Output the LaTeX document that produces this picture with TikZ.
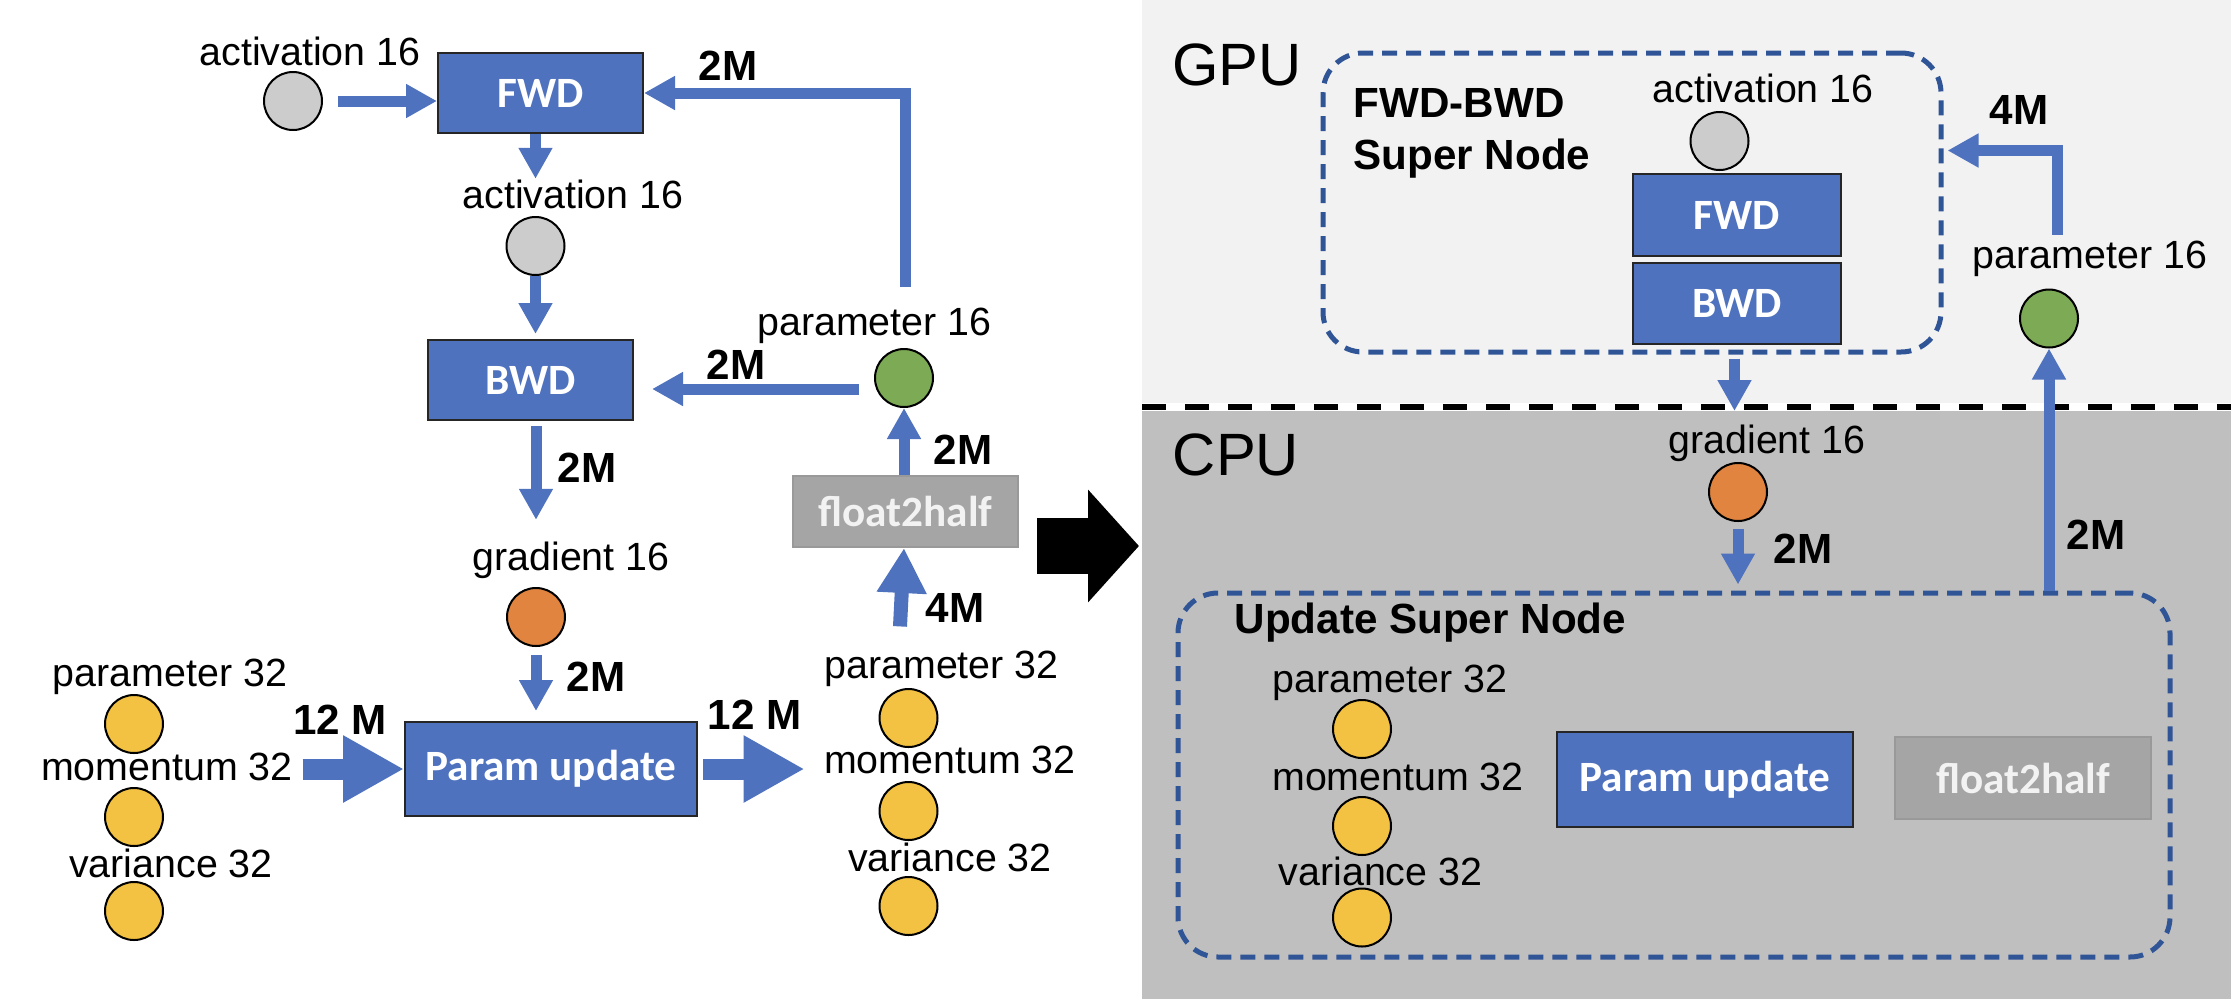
\documentclass[tikz,border=0pt]{standalone}
\usepackage{fontspec}
\setmainfont{Liberation Sans}
\newfontfamily\boxfont{Carlito}
\usetikzlibrary{arrows.meta,calc}
\definecolor{ppblue}{HTML}{4F72BE}
\definecolor{ppdash}{HTML}{2F5597}
\definecolor{ppgray}{HTML}{A5A5A5}
\definecolor{pporange}{HTML}{E0843F}
\definecolor{ppgreen}{HTML}{7DAA55}
\definecolor{ppyellow}{HTML}{F3C242}
\definecolor{gpubg}{HTML}{F2F2F2}
\definecolor{cpubg}{HTML}{BFBFBF}
\begin{document}
\begin{tikzpicture}[x=0.1mm,y=-0.1mm,
  lbl/.style={inner sep=0pt,font=\fontsize{11.2}{13}\selectfont},
  num/.style={inner sep=0pt,font=\fontsize{12}{14.8}\selectfont\bfseries},
  blk/.style={draw=black!85,line width=0.2mm,fill=ppblue,text=white,inner sep=0pt,font=\boxfont\fontsize{12.3}{14}\selectfont\bfseries},
  cvt/.style={blk,draw=black!40,fill=ppgray,text=black!5},
  dot/.style={circle,draw=black,line width=0.2mm,minimum size=5.8mm,inner sep=0pt},
  act/.style={dot,fill=black!20},
  flow/.style={draw=ppblue,line width=1.1mm,-{Triangle[length=3.1mm,width=3.2mm]}},
  bigflow/.style={draw=ppblue,line width=2.1mm,-{Triangle[length=6.1mm,width=6.3mm]}},
  super/.style={draw=ppdash,line width=0.5mm,dash pattern=on 1.5mm off 0.9mm,rounded corners=4mm,inner sep=0pt}]
\useasboundingbox (0,0) rectangle (2234,1006);

\node[lbl,anchor=base] (a1t) at (310,65) {activation 16};
\node[act] (a1) at (293,101) {};
\node[blk,minimum width=20.5mm,minimum height=8mm] (fwd) at (540.5,93) {FWD};
\node[lbl,anchor=base] (a2t) at (573,208) {activation 16};
\node[act] (a2) at (535.5,246) {};
\node[blk,minimum width=20.5mm,minimum height=8mm] (bwd) at (530.5,380) {BWD};
\node[lbl,anchor=base] (p16t) at (874.5,335) {parameter 16};
\node[dot,fill=ppgreen] (p16) at (904,378) {};
\node[cvt,minimum width=22.5mm,minimum height=7.1mm] (f2h) at (905.5,511.5) {float2half};
\node[lbl,anchor=base] (g16t) at (571,570) {gradient 16};
\node[dot,fill=pporange] (g16) at (536,617) {};
\node[blk,minimum width=29.2mm,minimum height=9.4mm] (upd) at (551,769) {Param update};

\node[lbl,anchor=base] (lp32t) at (170,686) {parameter 32};
\node[dot,fill=ppyellow] (lp32) at (134,724) {};
\node[lbl,anchor=base] (lm32t) at (167,780) {momentum 32};
\node[dot,fill=ppyellow] (lm32) at (134,817) {};
\node[lbl,anchor=base] (lv32t) at (171,877) {variance 32};
\node[dot,fill=ppyellow] (lv32) at (134,911) {};

\node[lbl,anchor=base] (rp32t) at (941.5,678.6) {parameter 32};
\node[dot,fill=ppyellow] (rp32) at (908.5,718) {};
\node[lbl,anchor=base] (rm32t) at (950,773) {momentum 32};
\node[dot,fill=ppyellow] (rm32) at (908.5,811) {};
\node[lbl,anchor=base] (rv32t) at (950,871) {variance 32};
\node[dot,fill=ppyellow] (rv32) at (908.5,906) {};

\node[num] (n1) at (728,66) {2M};
\node[num] (n2) at (736,365) {2M};
\node[num] (n3) at (963,450) {2M};
\node[num] (n4) at (587,468) {2M};
\node[num] (n5) at (596,677) {2M};
\node[num] (n6) at (340,720) {12 M};
\node[num] (n7) at (754.5,714.5) {12 M};
\node[num] (n8) at (955,608) {4M};

\draw[flow] ($(a1.east)+(15,0)$) -- (a1.east -| fwd.west);
\draw[flow] (a2.north |- fwd.south) -- (a2.north |- a2t.north);
\draw[flow] (a2.south) -- ($(a2.south |- bwd.north)+(0,-5)$);
\draw[flow] ($(g16.north |- bwd.south)+(0,5)$) -- ($(g16.north |- g16t.north)+(0,-21)$);
\draw[flow] ($(g16.south)+(0,8)$) -- ($(g16.south |- upd.north)+(0,-10)$);
\draw[flow] ($(p16.west)+(-15,11)$) -- ($(p16.west -| bwd.east)+(18,11)$);
\draw[flow] (p16.south |- f2h.north) -- (p16.south);
\draw[flow] ($(p16.north |- p16t.north)+(1,-20)$) |- (fwd.east);
\draw[flow,line width=1.4mm,-{Triangle[length=4.5mm,width=4.7mm]}] ($(p16.south |- rp32t.north)+(-4,-24)$) -- (p16.south |- f2h.south);
\draw[bigflow] ($(lm32t.east |- upd.west)+(9,0)$) -- (upd.west);
\draw[bigflow] ($(upd.east)+(5,0)$) -- ($(rm32t.west |- upd.east)+(-19,0)$);

\coordinate (bigl) at (1037,546);
\coordinate (bigr) at (1139,546);
\draw[line width=5.6mm,-{Triangle[length=5.1mm,width=11mm]}] (bigl) -- (bigr);

\fill[gpubg] (1142,0) rectangle (2231,403);
\fill[cpubg] (1142,411) rectangle (2231,999);
\coordinate (sepl) at (1142,407);
\coordinate (sepr) at (2231,407);
\draw[line width=0.6mm,dash pattern=on 2.4mm off 1.9mm] (sepl) -- (sepr);
\node[inner sep=0pt,font=\fontsize{17}{20}\selectfont] (gpu) at (1237,65) {GPU};
\node[inner sep=0pt,font=\fontsize{17}{20}\selectfont] (cpu) at (1236,455) {CPU};

\node[super,minimum width=61.8mm,minimum height=29.9mm] (fbsn) at (1632,202.5) {};
\node[num,align=left,anchor=north west] (fbsnt) at (1353,88) {FWD-BWD\\Super Node};
\node[lbl,anchor=base] (ga16t) at (1763,102.5) {activation 16};
\node[act] (ga16) at (1719.5,141) {};
\node[blk,minimum width=20.8mm,minimum height=8.2mm] (gfwd) at (1737,215) {FWD};
\node[blk,minimum width=20.8mm,minimum height=8.1mm] (gbwd) at (1737,303) {BWD};
\node[lbl,anchor=base] (gp16t) at (2090,268) {parameter 16};
\node[dot,fill=ppgreen] (gp16) at (2049,318.5) {};
\node[num] (n9) at (2019,110) {4M};

\node[lbl,anchor=base] (cg16t) at (1767,453) {gradient 16};
\node[dot,fill=pporange] (cg16) at (1738,492) {};
\node[num] (n10) at (1803,548.5) {2M};
\node[num] (n11) at (2096,535) {2M};
\node[super,minimum width=99.2mm,minimum height=36.4mm] (usn) at (1674,775) {};
\node[num,anchor=base west] (usnt) at (1234,633.6) {Update Super Node};
\node[lbl,anchor=base] (cp32t) at (1390,692) {parameter 32};
\node[dot,fill=ppyellow] (cp32) at (1362,729) {};
\node[lbl,anchor=base] (cm32t) at (1398,790.6) {momentum 32};
\node[dot,fill=ppyellow] (cm32) at (1362,826) {};
\node[lbl,anchor=base] (cv32t) at (1380.5,885) {variance 32};
\node[dot,fill=ppyellow] (cv32) at (1362,917.5) {};
\node[blk,minimum width=29.6mm,minimum height=9.5mm] (cupd) at (1705,779.5) {Param update};
\node[cvt,minimum width=25.6mm,minimum height=8.2mm] (cf2h) at (2023,778) {float2half};

\coordinate (gout) at (1734.5,411);
\draw[flow] ($(gout |- gbwd.south)+(0,14)$) -- (gout);
\draw[flow] ($(cg16.south)+(0,7)$) -- ($(cg16.south |- usn.north)+(0,-6)$);
\draw[flow] (gp16.south |- usn.north) -- (gp16.south);
\draw[flow] ($(gp16.north |- gp16t.north)+(8,-5)$) |- ($(fbsn.east)+(4,-52)$);
\end{tikzpicture}
\end{document}
